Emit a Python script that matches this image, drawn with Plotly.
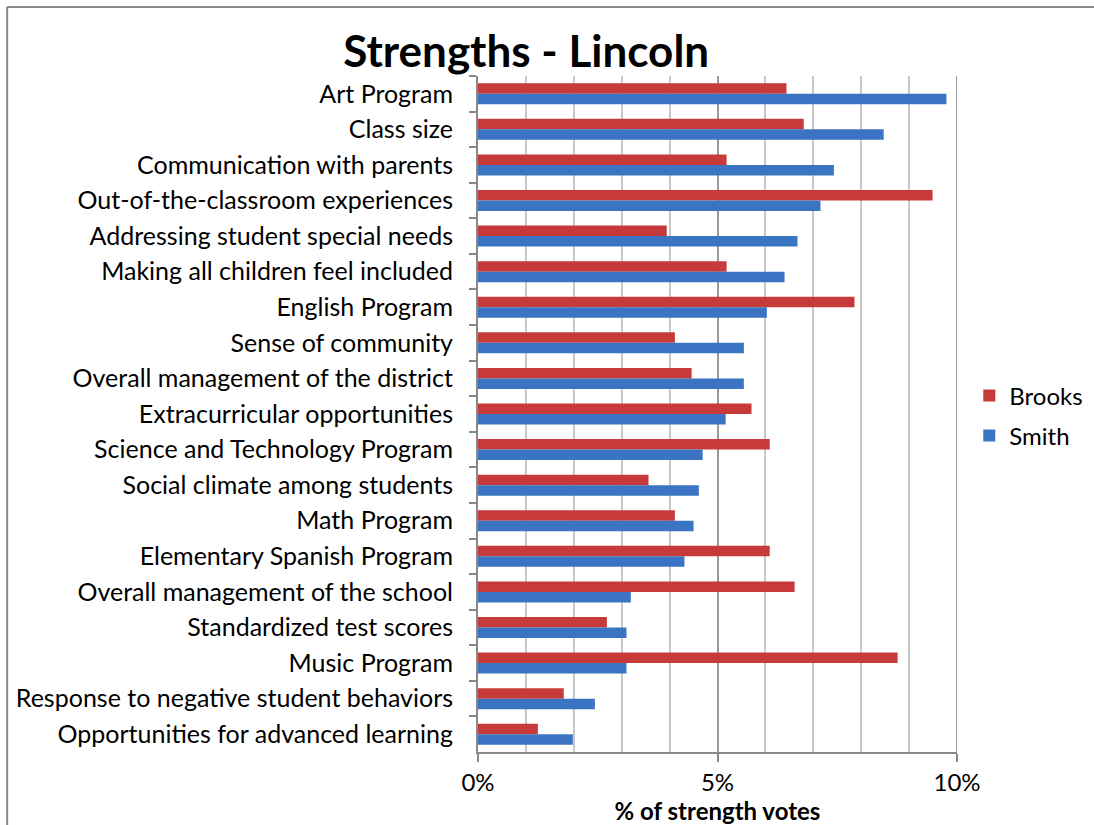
import plotly.graph_objects as go

# categories top to bottom
categories = [
    "Art Program",
    "Class size",
    "Communication with parents",
    "Out-of-the-classroom experiences",
    "Addressing student special needs",
    "Making all children feel included",
    "English Program",
    "Sense of community",
    "Overall management of the district",
    "Extracurricular opportunities",
    "Science and Technology Program",
    "Social climate among students",
    "Math Program",
    "Elementary Spanish Program",
    "Overall management of the school",
    "Standardized test scores",
    "Music Program",
    "Response to negative student behaviors",
    "Opportunities for advanced learning",
]
brooks = [0.0644, 0.0680, 0.0519, 0.0949, 0.0394, 0.0519, 0.0786, 0.0411, 0.0446, 0.0571,
          0.0609, 0.0356, 0.0411, 0.0609, 0.0661, 0.0269, 0.0876, 0.0179, 0.0125]
smith = [0.0978, 0.0847, 0.0743, 0.0715, 0.0667, 0.0640, 0.0603, 0.0555, 0.0555, 0.0517,
         0.0469, 0.0461, 0.0450, 0.0431, 0.0319, 0.0310, 0.0310, 0.0244, 0.0198]

FONT = "Lato, Calibri, sans-serif"

fig = go.Figure()
fig.add_trace(go.Bar(y=categories, x=brooks, name="Brooks", orientation="h", legend="legend",
                     marker=dict(color="#C63A3A", line=dict(width=0))))
fig.add_trace(go.Bar(y=categories, x=smith, name="Smith", orientation="h", legend="legend2",
                     marker=dict(color="#3A74C2", line=dict(width=0))))

leg = dict(xref="container", yref="container", x=0.886, xanchor="left", yanchor="middle",
           font=dict(family=FONT, size=24), bgcolor="rgba(0,0,0,0)")

fig.update_layout(
    width=1094, height=825,
    paper_bgcolor="white", plot_bgcolor="white",
    margin=dict(l=478, r=137, t=76, b=73),
    barmode="group", bargap=0.41, bargroupgap=0,
    font=dict(family=FONT, size=25, color="black"),
    title=dict(text="<b>Strengths - Lincoln</b>", x=0.481, xanchor="center",
               y=0.938, yanchor="middle", font=dict(family=FONT, size=44, color="black")),
    legend=dict(leg, y=0.52),
    legend2=dict(leg, y=0.4715),
    showlegend=True,
)

fig.update_xaxes(
    range=[0, 0.1], tickvals=[0, 0.05, 0.1], tickformat=".0%",
    showline=True, linecolor="#888", linewidth=2,
    ticks="outside", ticklen=8, tickcolor="#888", tickwidth=2,
    showgrid=True, gridcolor="#999", gridwidth=2,
    minor=dict(dtick=0.01, showgrid=True, gridcolor="#c8c8c8", gridwidth=2, ticks=""),
    zeroline=False,
    title=dict(text="<b>% of strength votes</b>", standoff=0, font=dict(size=24)),
    tickfont=dict(size=24), automargin=False,
)
fig.update_yaxes(
    autorange="reversed", type="category",
    showline=True, linecolor="#888", linewidth=2,
    ticks="outside", ticklen=7, tickcolor="#888", tickwidth=2,
    tickson="boundaries", showgrid=False,
    tickfont=dict(size=25), ticklabelstandoff=18, automargin=False,
)
# right edge line at 10%
fig.add_shape(type="line", xref="x", yref="paper", x0=0.1, x1=0.1, y0=0, y1=1,
              line=dict(color="#999", width=2))
# outer chart border: only its top and left edges fall inside the picture
fig.add_shape(type="line", xref="paper", yref="paper", x0=-0.983, x1=1.4, y0=1.102, y1=1.102,
              line=dict(color="#888", width=2), layer="above")
fig.add_shape(type="line", xref="paper", yref="paper", x0=-0.983, x1=-0.983, y0=-0.2, y1=1.102,
              line=dict(color="#888", width=2), layer="above")

fig.write_html("out.html", config={"displayModeBar": False},
               post_script="document.body.style.margin='0';")
